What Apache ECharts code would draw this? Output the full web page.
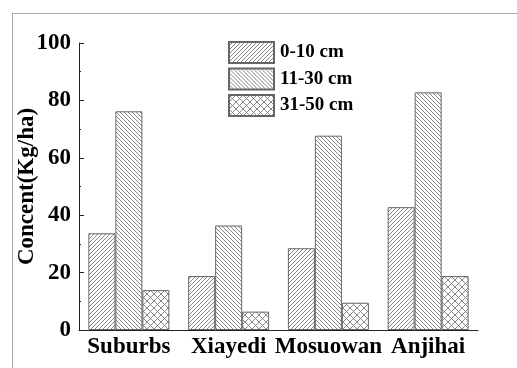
<!DOCTYPE html>
<html><head><meta charset="utf-8">
<script src="https://cdn.jsdelivr.net/npm/echarts@6/dist/echarts.min.js"></script>
<style>html,body{margin:0;padding:0;background:#fff}#c{width:517px;height:368px}</style>
</head><body><div id="c"></div>
<script>
const categories = ['Suburbs', 'Xiayedi', 'Mosuowan', 'Anjihai'];
const seriesNames = ['0-10 cm', '11-30 cm', '31-50 cm'];
const depth0_10 = [33.7, 18.8, 28.5, 42.8];
const depth11_30 = [76.2, 36.4, 67.7, 82.8];
const depth31_50 = [13.9, 6.4, 9.5, 18.8];
const yTicks = [0, 20, 40, 60, 80, 100];

function hatch(kind) {
  const p = kind === 'cross' ? 7 : 4;
  const c = document.createElement('canvas');
  c.width = p; c.height = p;
  const g = c.getContext('2d');
  g.fillStyle = '#fff'; g.fillRect(0, 0, p, p);
  g.strokeStyle = '#7a7a7a'; g.lineWidth = 0.9;
  const fwd = () => { // "/"
    g.beginPath();
    g.moveTo(-1, p + 1); g.lineTo(p + 1, -1);
    g.moveTo(-1, 1); g.lineTo(1, -1);
    g.moveTo(p - 1, p + 1); g.lineTo(p + 1, p - 1);
    g.stroke();
  };
  const back = () => { // "\"
    g.beginPath();
    g.moveTo(-1, -1); g.lineTo(p + 1, p + 1);
    g.moveTo(-1, p - 1); g.lineTo(1, p + 1);
    g.moveTo(p - 1, -1); g.lineTo(p + 1, 1);
    g.stroke();
  };
  if (kind === 'fwd') fwd();
  else if (kind === 'back') back();
  else { fwd(); back(); }
  return { image: c, repeat: 'repeat' };
}

const patterns = [hatch('fwd'), hatch('back'), hatch('cross')];
const values = [depth0_10, depth11_30, depth31_50];
const font = 'Liberation Serif';

const chart = echarts.init(document.getElementById('c'));
chart.setOption({
  animation: false,
  backgroundColor: '#fff',
  grid: { left: 79, right: 39, top: 43, bottom: 38, containLabel: false, outerBoundsMode: 'none' },
  graphic: [
    { type: 'line', shape: { x1: 12.5, y1: 13, x2: 12.5, y2: 368 }, style: { stroke: '#aaa', lineWidth: 1 } },
    { type: 'line', shape: { x1: 12, y1: 13.5, x2: 517, y2: 13.5 }, style: { stroke: '#aaa', lineWidth: 1 } }
  ],
  legend: {
    orient: 'vertical', left: 228, top: 41, padding: 0,
    itemWidth: 45, itemHeight: 21, itemGap: 3.5,
    icon: 'rect',
    data: seriesNames,
    textStyle: { fontFamily: font, fontWeight: 'bold', fontSize: 19, color: '#000', padding: [0, 0, 0, 1] }
  },
  xAxis: [{
    type: 'category', data: categories,
    axisLine: { lineStyle: { color: '#222', width: 1 } },
    axisTick: { alignWithLabel: true, inside: true, length: 5, lineStyle: { color: '#222' } },
    axisLabel: { interval: 0, fontFamily: font, fontWeight: 'bold', fontSize: 23, color: '#000', margin: 6 }
  }, {
    type: 'category', data: categories, position: 'bottom',
    axisLine: { show: false },
    axisTick: { inside: false, length: 2, lineStyle: { color: '#222' } },
    axisLabel: { show: false }
  }],
  yAxis: {
    type: 'value', min: yTicks[0], max: yTicks[yTicks.length - 1], interval: 20,
    name: 'Concent(Kg/ha)', nameLocation: 'middle', nameGap: 40, nameMoveOverlap: false,
    nameTextStyle: { fontFamily: font, fontWeight: 'bold', fontSize: 23, color: '#000' },
    axisLine: { show: true, lineStyle: { color: '#222', width: 1 } },
    axisTick: { show: true, inside: true, length: 5, lineStyle: { color: '#222' } },
    minorTick: { show: true, splitNumber: 2, length: 2, lineStyle: { color: '#222' } },
    splitLine: { show: false },
    axisLabel: { fontFamily: font, fontWeight: 'bold', fontSize: 23, color: '#000', margin: 8 }
  },
  series: seriesNames.map((n, i) => ({
    name: n, type: 'bar', xAxisIndex: 0, data: values[i],
    barWidth: 27, barGap: '0%',
    itemStyle: { color: patterns[i], borderColor: '#666', borderWidth: 1 }
  }))
});
</script></body></html>
